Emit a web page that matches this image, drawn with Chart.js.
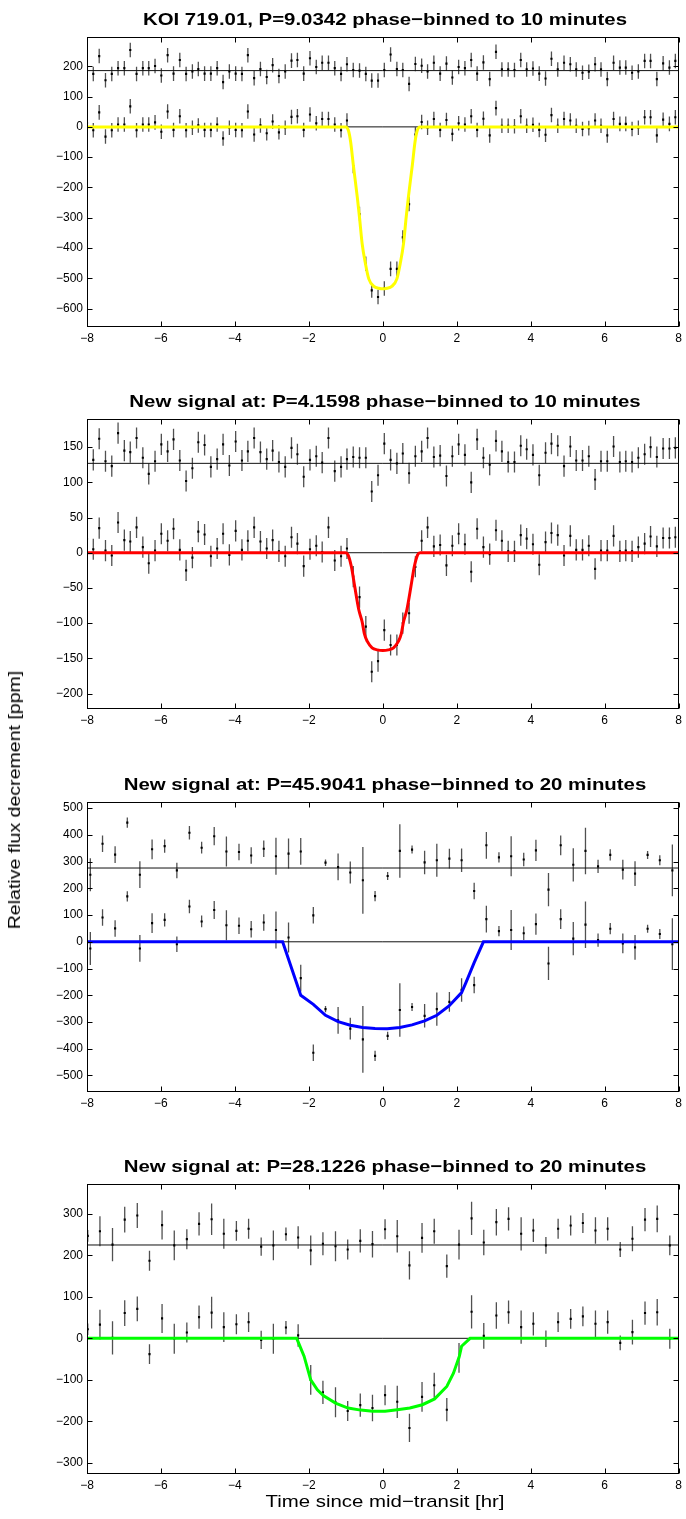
<!DOCTYPE html>
<html>
<head>
<meta charset="utf-8">
<script src="https://cdn.jsdelivr.net/npm/chart.js@4.4.1/dist/chart.umd.min.js"></script>
<style>
html,body{margin:0;padding:0;background:#fff;}
body{width:686px;height:1519px;position:relative;overflow:hidden;font-family:"Liberation Sans",Arial,Helvetica,sans-serif;color:#000;}
canvas{position:absolute;left:0;}
.ttl{position:absolute;left:0;width:770px;text-align:center;font-weight:bold;font-size:17px;line-height:20px;white-space:nowrap;transform:scaleX(1.2);}
.xl{position:absolute;left:0;width:770px;text-align:center;font-size:17px;line-height:20px;white-space:nowrap;transform:scaleX(1.2);}
.yl{position:absolute;left:-135px;width:300px;text-align:center;font-size:17px;line-height:20px;white-space:nowrap;transform:rotate(-90deg) scaleX(1.15);}
</style>
</head>
<body>
<canvas id="c1" width="686" height="357"></canvas>
<canvas id="c2" width="686" height="357"></canvas>
<canvas id="c3" width="686" height="357"></canvas>
<canvas id="c4" width="686" height="357"></canvas>
<div class="ttl" id="t1"></div>
<div class="ttl" id="t2"></div>
<div class="ttl" id="t3"></div>
<div class="ttl" id="t4"></div>
<div class="xl" id="xlab" style="top:1492px;">Time since mid−transit [hr]</div>
<div class="yl" id="ylab" style="top:790px;">Relative flux decrement [ppm]</div>
<script>
// ---------------- data ----------------
const panelTitles = [
  "KOI 719.01, P=9.0342 phase−binned to 10 minutes",
  "New signal at: P=4.1598 phase−binned to 10 minutes",
  "New signal at: P=45.9041 phase−binned to 20 minutes",
  "New signal at: P=28.1226 phase−binned to 20 minutes"
];

// tick values
const xTicks = [-8,-6,-4,-2,0,2,4,6,8];
const p1YTicks = [-600,-500,-400,-300,-200,-100,0,100,200];
const p2YTicks = [-200,-150,-100,-50,0,50,100,150];
const p3YTicks = [-500,-400,-300,-200,-100,0,100,200,300,400,500];
const p4YTicks = [-300,-200,-100,0,100,200,300];

// 10-minute bin centres [hr] (panels 1 and 2)
const tenMinTimes = [-8.00,-7.83,-7.67,-7.50,-7.33,-7.16,-6.99,-6.83,-6.66,-6.49,-6.33,-6.16,-5.99,-5.82,-5.66,-5.49,
 -5.32,-5.15,-4.99,-4.82,-4.65,-4.48,-4.32,-4.15,-3.98,-3.81,-3.65,-3.48,-3.31,-3.14,-2.98,-2.81,-2.64,-2.47,-2.31,-2.14,
 -1.97,-1.80,-1.64,-1.47,-1.30,-1.13,-0.97,-0.80,-0.63,-0.46,-0.30,-0.13,0.04,0.21,0.38,0.54,0.71,0.88,1.05,1.21,1.38,
 1.55,1.72,1.88,2.05,2.22,2.39,2.55,2.72,2.89,3.06,3.22,3.39,3.56,3.73,3.89,4.06,4.23,4.40,4.56,4.73,4.90,5.07,5.23,
 5.40,5.57,5.74,5.90,6.07,6.24,6.41,6.57,6.74,6.91,7.08,7.24,7.41,7.58,7.75,7.91];

// Panel 1 : KOI 719.01
const p1Flux = [13,-11,48,-32,-11,8,8,68,-11,8,8,15,-16,51,-10,35,-11,-3,5,-10,-10,8,-38,-3,-10,-11,51,-25,5,-21,18,-18,
 -3,33,35,-10,41,12,26,26,8,-11,21,-129,-288,-452,-540,-562,-534,-469,-469,-365,-255,-25,16,-3,26,-10,23,-23,12,8,35,
 -10,27,-28,62,4,4,2,35,4,7,-10,-26,39,4,26,21,4,-7,-4,21,4,-28,26,10,10,-7,-3,32,32,-28,24,10,32];
const p1ResidIdx = [43,44,45,46,47,48,49,50,51,52,53];
const p1ResidVal = [2,0,-11,-33,-33,2,53,5,2,-44,22];
const p1ErrBar = 24;
const p1Offset = 186;
const p1ModelT = [-8,-1.0,-0.93,-0.87,-0.8,-0.69,-0.63,-0.56,-0.47,-0.38,-0.24,-0.11,0,0.11,0.24,0.38,0.47,0.56,0.63,0.69,0.8,0.87,0.93,1.0,8];
const p1ModelF = [0,0,-12,-50,-124,-233,-300,-385,-452,-502,-527,-533,-535,-533,-527,-502,-452,-385,-300,-233,-124,-50,-12,0,0];

// Panel 2 : P=4.1598
const p2Flux = [20,5,35,3,-4,43,18,16,36,8,-15,3,27,17,34,4,-25,-7,30,26,-5,6,27,-3,31,4,17,36,16,6,18,2,-5,22,13,-19,
 5,10,1,36,-11,-5,6,-34,-63,-105,-169,-154,-110,-131,-131,-100,-86,-20,17,36,9,11,-18,10,27,12,-27,34,8,-2,32,17,2,2,
 25,20,12,-17,15,28,25,-4,24,4,4,10,-23,3,3,24,2,3,2,8,13,23,9,21,21,22];
const p2ResidIdx = [43,44,45,46,47,48,49,50,51,52,53];
const p2ResidVal = [9,8,8,-40,-17,28,5,0,14,-14,10];
const p2ErrBar = 15;
const p2Offset = 127;
const p2ModelT = [-8,-1.01,-0.94,-0.85,-0.76,-0.65,-0.56,-0.5,-0.42,-0.29,-0.15,0,0.15,0.29,0.42,0.5,0.56,0.65,0.76,0.85,0.94,1.01,8];
const p2ModelF = [0,0,-3,-20,-48,-81,-98,-115,-126,-135,-138,-139,-138,-135,-126,-115,-98,-81,-48,-20,-3,0,0];

// Panel 3 : P=45.9041 (20-minute bins)
const p3Times = [-7.91,-7.58,-7.24,-6.91,-6.57,-6.24,-5.90,-5.57,-5.23,-4.90,-4.56,-4.23,-3.89,-3.56,-3.22,-2.89,-2.55,
 -2.22,-1.88,-1.55,-1.21,-0.88,-0.54,-0.21,0.13,0.46,0.79,1.13,1.46,1.80,2.13,2.47,2.80,3.14,3.47,3.81,4.14,4.48,4.81,
 5.15,5.48,5.82,6.15,6.49,6.82,7.16,7.49,7.83];
const p3Flux = [-25,91,50,170,-25,70,82,-9,132,76,119,62,60,47,72,44,16,-136,-415,-252,-294,-325,-365,-427,-352,
 -255,-244,-277,-252,-225,-180,-162,85,40,44,32,66,-81,85,12,64,6,49,-6,-21,49,29,-9];
const p3Err = [62,31,31,19,50,37,25,29,25,22,34,56,31,31,31,69,56,50,31,12,50,41,125,19,15,
 100,15,44,62,37,44,31,50,19,75,25,40,62,37,62,87,25,21,37,46,15,19,97];
const p3ResidIdx = [16,17,18,19,20,21,22,23,24,25,26,27,28,29,30,31];
const p3ResidVal = [54,62,-177,20,4,-17,-46,-105,-30,64,69,21,29,35,29,-86];
const p3Offset = 276;
const p3ModelT = [-8,-2.71,-2.22,-1.88,-1.55,-1.21,-0.88,-0.55,-0.21,0.12,0.46,0.79,1.13,1.46,1.79,2.13,2.25,2.47,2.72,8];
const p3ModelF = [0,0,-200,-234,-275,-299,-312,-321,-324,-325,-321,-311,-296,-275,-240,-190,-152,-78,0,0];

// Panel 4 : P=28.1226 (20-minute bins)
const p4Times = [-7.98,-7.65,-7.31,-6.98,-6.64,-6.31,-5.97,-5.64,-5.30,-4.97,-4.63,-4.30,-3.96,-3.63,-3.29,-2.96,-2.62,
 -2.29,-1.95,-1.62,-1.28,-0.95,-0.61,-0.28,0.06,0.39,0.72,1.06,1.39,1.73,2.06,2.40,2.73,3.07,3.40,3.74,4.07,4.41,4.74,
 5.08,5.41,5.75,6.08,6.42,6.75,7.09,7.42,7.76];
const p4Flux = [22,33,1,61,71,-38,48,-1,14,51,62,27,34,39,-4,-1,26,7,-100,-130,-154,-175,-161,-168,-137,
 -153,-216,-141,-113,-172,-47,64,6,55,63,27,35,-1,39,47,53,35,39,-11,15,61,63,-1];
const p4Err = [14,36,40,31,30,24,35,36,24,28,38,36,24,24,22,36,16,27,36,28,36,24,28,32,24,
 39,34,36,30,28,36,40,31,32,28,40,28,20,24,24,24,32,28,18,30,28,32,24];
const p4ResidIdx = [17,18,19,20,21,22,23,24,25,26,27,28,29,30];
const p4ResidVal = [18,-13,3,-3,-11,10,2,38,21,-49,17,33,-51,1];
const p4Offset = 225;
const p4ModelT = [-8,-2.33,-2.13,-1.95,-1.77,-1.61,-1.28,-0.94,-0.6,-0.27,0.06,0.39,0.73,1.07,1.4,1.73,1.91,2.07,2.13,2.36,8];
const p4ModelF = [0,0,-43,-100,-124,-138,-156,-168,-173,-176,-176,-172,-168,-160,-146,-116,-84,-43,-19,0,0];

const yRanges = [[-661,297],[-222,190],[-562,523],[-327,372]];
const yTickSets = [p1YTicks, p2YTicks, p3YTicks, p4YTicks];
const modelColors = ['#ffff00','#ff0000','#0000ff','#00ff00'];

// ---------------- layout ----------------
const areaTops = [37, 419, 802, 1184];
const PAD_TOP = 37, XAXIS_H = 30, YAXIS_W = 87, PAD_RIGHT = 3;

function fmt(v){ return v < 0 ? '\u2212' + Math.abs(v) : String(v); }

function makePanel(k, times, flux, residIdx, residVal, err, offset, modelT, modelF, smooth){
  const canvas = document.getElementById('c' + (k+1));
  canvas.style.top = (areaTops[k] - PAD_TOP) + 'px';
  const t = document.getElementById('t' + (k+1));
  t.textContent = panelTitles[k];
  t.style.top = (areaTops[k] - 11 - 16) + 'px';

  const resid = flux.slice();
  residIdx.forEach((ix, j) => { resid[ix] = residVal[j]; });
  const lower = times.map((tt, i) => ({x: tt, y: flux[i]}));
  const upper = times.map((tt, i) => ({x: tt, y: resid[i] + offset}));
  const model = modelT.map((tt, i) => ({x: tt, y: modelF[i]}));
  const errAt = i => Array.isArray(err) ? err[i] : err;

  const errorBars = {
    id: 'errbars' + k,
    beforeDatasetsDraw(chart){
      const {ctx, chartArea: a, scales: {x, y}} = chart;
      ctx.save();
      ctx.beginPath(); ctx.rect(a.left, a.top, a.right - a.left, a.bottom - a.top); ctx.clip();
      ctx.strokeStyle = '#505050'; ctx.lineWidth = 1.3;
      ctx.beginPath();
      [lower, upper].forEach(rows => rows.forEach((pt, i) => {
        const px = x.getPixelForValue(pt.x);
        ctx.moveTo(px, y.getPixelForValue(pt.y - errAt(i)));
        ctx.lineTo(px, y.getPixelForValue(pt.y + errAt(i)));
      }));
      ctx.stroke();
      ctx.restore();
    }
  };
  const frame = {
    id: 'frame' + k,
    afterDraw(chart){
      const {ctx, chartArea: a, scales: {x, y}} = chart;
      const L = Math.round(a.left) + 0.5, R = Math.round(a.right) - 0.5;
      const T = Math.round(a.top) + 0.5, B = Math.round(a.bottom) - 0.5;
      ctx.save();
      ctx.strokeStyle = '#000'; ctx.lineWidth = 1;
      ctx.beginPath();
      x.ticks.forEach(tk => {
        const px = Math.round(x.getPixelForValue(tk.value)) + 0.5;
        ctx.moveTo(px, B); ctx.lineTo(px, B - 5);
        ctx.moveTo(px, T); ctx.lineTo(px, T + 5);
      });
      y.ticks.forEach(tk => {
        const py = Math.round(y.getPixelForValue(tk.value)) + 0.5;
        ctx.moveTo(L, py); ctx.lineTo(L + 5, py);
        ctx.moveTo(R, py); ctx.lineTo(R - 5, py);
      });
      ctx.stroke();
      ctx.strokeRect(L, T, R - L, B - T);
      ctx.restore();
    }
  };

  const tickFont = {family: '"Liberation Sans", Arial, sans-serif', size: 12};
  new Chart(canvas, {
    type: 'scatter',
    data: {
      datasets: [
        {type: 'line', data: model, borderColor: modelColors[k], borderWidth: 3, pointRadius: 0,
         cubicInterpolationMode: smooth ? 'monotone' : 'default', tension: 0, order: 0, fill: false},
        {data: lower, pointStyle: 'rect', pointRadius: 1.5, backgroundColor: '#000', borderWidth: 0, order: 1},
        {data: upper, pointStyle: 'rect', pointRadius: 1.5, backgroundColor: '#000', borderWidth: 0, order: 1},
        {type: 'line', data: [{x: -8, y: 0}, {x: 8, y: 0}], borderColor: '#111', borderWidth: 1, pointRadius: 0, order: 2},
        {type: 'line', data: [{x: -8, y: offset}, {x: 8, y: offset}], borderColor: '#111', borderWidth: 1, pointRadius: 0, order: 2}
      ]
    },
    options: {
      responsive: false, animation: false, devicePixelRatio: 1,
      layout: {padding: {top: PAD_TOP, right: PAD_RIGHT, left: 0, bottom: 0}},
      plugins: {legend: {display: false}, tooltip: {enabled: false}, title: {display: false}},
      scales: {
        x: {
          type: 'linear', min: -8, max: 8,
          afterFit(s){ s.height = XAXIS_H; },
          afterBuildTicks(s){ s.ticks = xTicks.map(v => ({value: v})); },
          grid: {display: false, drawTicks: false}, border: {display: false},
          ticks: {autoSkip: false, maxRotation: 0, color: '#000', font: tickFont, padding: 4, callback: v => fmt(v)}
        },
        y: {
          type: 'linear', min: yRanges[k][0], max: yRanges[k][1],
          afterFit(s){ s.width = YAXIS_W; },
          afterBuildTicks(s){ s.ticks = yTickSets[k].map(v => ({value: v})); },
          grid: {display: false, drawTicks: false}, border: {display: false},
          ticks: {autoSkip: false, color: '#000', font: tickFont, padding: 4, callback: v => fmt(v)}
        }
      }
    },
    plugins: [errorBars, frame]
  });
}

makePanel(0, tenMinTimes, p1Flux, p1ResidIdx, p1ResidVal, p1ErrBar, p1Offset, p1ModelT, p1ModelF, true);
makePanel(1, tenMinTimes, p2Flux, p2ResidIdx, p2ResidVal, p2ErrBar, p2Offset, p2ModelT, p2ModelF, true);
makePanel(2, p3Times, p3Flux, p3ResidIdx, p3ResidVal, p3Err, p3Offset, p3ModelT, p3ModelF, false);
makePanel(3, p4Times, p4Flux, p4ResidIdx, p4ResidVal, p4Err, p4Offset, p4ModelT, p4ModelF, false);
</script>
</body>
</html>
